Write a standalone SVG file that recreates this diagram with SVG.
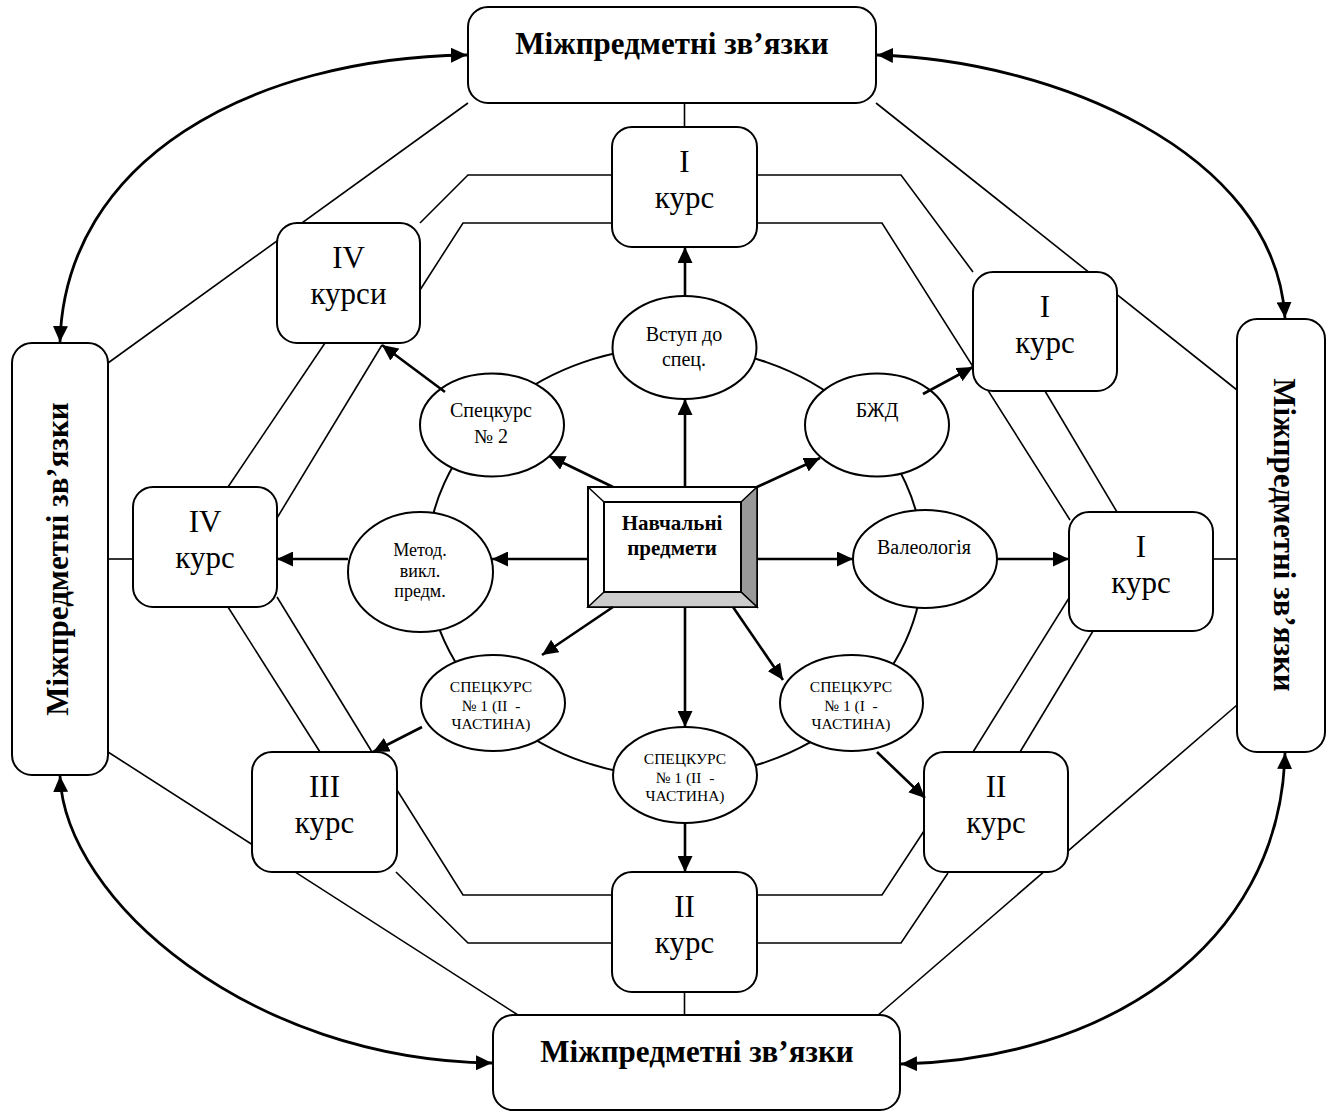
<svg xmlns="http://www.w3.org/2000/svg" width="1326" height="1111" viewBox="0 0 1326 1111">
<style>
.box{fill:#fff;stroke:#000;stroke-width:2}
.ell{fill:#fff;stroke:#000;stroke-width:2}
.ln{fill:none;stroke:#000;stroke-width:1.6}
.ar{fill:none;stroke:#000;stroke-width:2.6;marker-end:url(#ah)}
.cv{fill:none;stroke:#000;stroke-width:2.8;marker-start:url(#ah2);marker-end:url(#ah2)}
.big{font-family:"Liberation Serif","DejaVu Serif",serif;font-weight:bold;font-size:31px;text-anchor:middle}
.crs{font-family:"Liberation Serif","DejaVu Serif",serif;font-size:31px;text-anchor:middle}
.el{font-family:"Liberation Serif","DejaVu Serif",serif;font-size:20px;text-anchor:middle}
.sm{font-family:"Liberation Serif","DejaVu Serif",serif;font-size:15.5px;text-anchor:middle;white-space:pre}
.ctr{font-family:"Liberation Serif","DejaVu Serif",serif;font-weight:bold;font-size:21px;text-anchor:middle}
</style>
<defs>
<marker id="ah" markerUnits="userSpaceOnUse" markerWidth="16" markerHeight="15" refX="16" refY="7.5" orient="auto"><path d="M0,0 L16,7.5 L0,15 z" fill="#000"/></marker>
<marker id="ah2" markerUnits="userSpaceOnUse" markerWidth="16" markerHeight="15" refX="16" refY="7.5" orient="auto-start-reverse"><path d="M0,0 L16,7.5 L0,15 z" fill="#000"/></marker>
</defs>
<rect width="1326" height="1111" fill="#fff"/>

<g id="connectors">
  <!-- ring -->
  <ellipse cx="675" cy="562" rx="248" ry="215" fill="none" stroke="#000" stroke-width="2"/>
  <!-- frame lines -->
  <line class="ln" x1="684.5" y1="103" x2="684.5" y2="127"/>
  <line class="ln" x1="684.5" y1="992" x2="684.5" y2="1015"/>
  <line class="ln" x1="108" y1="559" x2="133" y2="559"/>
  <line class="ln" x1="1213" y1="559" x2="1237" y2="559"/>
  <line class="ln" x1="468" y1="103" x2="108" y2="363"/>
  <line class="ln" x1="876" y1="103" x2="1237" y2="390"/>
  <line class="ln" x1="108" y1="752" x2="518" y2="1015"/>
  <line class="ln" x1="877" y1="1016" x2="1237" y2="705"/>
  <polyline class="ln" points="612,175 468,175 420,223"/>
  <polyline class="ln" points="612,223 463,223 420,290"/>
  <polyline class="ln" points="757,175 901,175 973,272"/>
  <polyline class="ln" points="757,223 882,223 1070,520"/>
  <line class="ln" x1="1045" y1="391" x2="1117" y2="512"/>
  <line class="ln" x1="325" y1="343" x2="228" y2="487"/>
  <line class="ln" x1="277" y1="518" x2="382" y2="345"/>
  <line class="ln" x1="228" y1="607" x2="320" y2="752"/>
  <line class="ln" x1="277" y1="597" x2="372" y2="752"/>
  <polyline class="ln" points="397,790 463,895 612,895"/>
  <polyline class="ln" points="396,872 468,943 612,943"/>
  <polyline class="ln" points="757,895 882,895 924,831"/>
  <polyline class="ln" points="757,943 901,943 948,873"/>
  <line class="ln" x1="973" y1="752" x2="1069" y2="598"/>
  <line class="ln" x1="1020" y1="752" x2="1093" y2="631"/>
  <!-- curved double arrows -->
  <path class="cv" d="M60,342 C65,160 250,58 467,55"/>
  <path class="cv" d="M877,55 C1050,60 1275,150 1285,318"/>
  <path class="cv" d="M60,776 C65,900 250,1060 492,1063"/>
  <path class="cv" d="M901,1064 C1100,1060 1280,950 1285,753"/>
</g>

<g id="n-top">
  <rect class="box" x="468" y="7" width="408" height="96" rx="20"/>
  <text class="big" x="672" y="54">Міжпредметні зв’язки</text>
</g>
<g id="n-bottom">
  <rect class="box" x="493" y="1015" width="407" height="95" rx="20"/>
  <text class="big" x="697" y="1062">Міжпредметні зв’язки</text>
</g>
<g id="n-left">
  <rect class="box" x="12" y="343" width="96" height="432" rx="20"/>
  <text class="big" transform="translate(68,559) rotate(-90)">Міжпредметні зв’язки</text>
</g>
<g id="n-right">
  <rect class="box" x="1237" y="319" width="88" height="433" rx="20"/>
  <text class="big" transform="translate(1274,535) rotate(90)">Міжпредметні зв’язки</text>
</g>

<g id="c-top-I">
  <rect class="box" x="612" y="127" width="145" height="120" rx="20"/>
  <text class="crs" x="684.5" y="172">I</text><text class="crs" x="684.5" y="208">курс</text>
</g>
<g id="c-IVkursy">
  <rect class="box" x="277" y="223" width="143" height="120" rx="20"/>
  <text class="crs" x="348.5" y="268">IV</text><text class="crs" x="348.5" y="304">курси</text>
</g>
<g id="c-ru-I">
  <rect class="box" x="973" y="272" width="144" height="119" rx="20"/>
  <text class="crs" x="1045" y="317">I</text><text class="crs" x="1045" y="353">курс</text>
</g>
<g id="c-IV">
  <rect class="box" x="133" y="487" width="144" height="120" rx="20"/>
  <text class="crs" x="205" y="532">IV</text><text class="crs" x="205" y="568">курс</text>
</g>
<g id="c-r-I">
  <rect class="box" x="1069" y="512" width="144" height="119" rx="20"/>
  <text class="crs" x="1141" y="557">I</text><text class="crs" x="1141" y="593">курс</text>
</g>
<g id="c-III">
  <rect class="box" x="252" y="752" width="145" height="120" rx="20"/>
  <text class="crs" x="324.5" y="797">III</text><text class="crs" x="324.5" y="833">курс</text>
</g>
<g id="c-rl-II">
  <rect class="box" x="924" y="752" width="144" height="120" rx="20"/>
  <text class="crs" x="996" y="797">II</text><text class="crs" x="996" y="833">курс</text>
</g>
<g id="c-bottom-II">
  <rect class="box" x="612" y="872" width="145" height="120" rx="20"/>
  <text class="crs" x="684.5" y="917">II</text><text class="crs" x="684.5" y="953">курс</text>
</g>

<g id="e-vstup">
  <ellipse class="ell" cx="684.5" cy="347.5" rx="72" ry="51.5"/>
  <text class="el" x="684" y="341">Вступ до</text><text class="el" x="684" y="366">спец.</text>
</g>
<g id="e-spec2">
  <ellipse class="ell" cx="492" cy="425" rx="72" ry="51.5"/>
  <text class="el" x="491" y="417">Спецкурс</text><text class="el" x="491" y="443">№ 2</text>
</g>
<g id="e-bzhd">
  <ellipse class="ell" cx="877" cy="425" rx="72" ry="51.5"/>
  <text class="el" x="877" y="417">БЖД</text>
</g>
<g id="e-metod">
  <ellipse class="ell" cx="420.5" cy="572" rx="72.5" ry="60"/>
  <text class="el" style="font-size:18px" x="420" y="556">Метод.</text>
  <text class="el" style="font-size:18px" x="420" y="577">викл.</text>
  <text class="el" style="font-size:18px" x="420" y="597">предм.</text>
</g>
<g id="e-valeo">
  <ellipse class="ell" cx="925" cy="559" rx="72" ry="49"/>
  <text class="el" x="924" y="554">Валеологія</text>
</g>
<g id="e-spec1-left">
  <ellipse class="ell" cx="493" cy="703" rx="72" ry="48"/>
  <text class="sm" x="491" y="692">СПЕЦКУРС</text>
  <text class="sm" x="491" y="711">№ 1 (II  -</text>
  <text class="sm" x="491" y="729">ЧАСТИНА)</text>
</g>
<g id="e-spec1-right">
  <ellipse class="ell" cx="851.5" cy="703" rx="71.5" ry="48"/>
  <text class="sm" x="851" y="692">СПЕЦКУРС</text>
  <text class="sm" x="851" y="711">№ 1 (I  -</text>
  <text class="sm" x="851" y="729">ЧАСТИНА)</text>
</g>
<g id="e-spec1-bottom">
  <ellipse class="ell" cx="685" cy="775" rx="72" ry="48"/>
  <text class="sm" x="685" y="764">СПЕЦКУРС</text>
  <text class="sm" x="685" y="783">№ 1 (II  -</text>
  <text class="sm" x="685" y="801">ЧАСТИНА)</text>
</g>

<g id="center">
  <rect x="588" y="487" width="169" height="120" fill="#fff" stroke="#000" stroke-width="2"/>
  <polygon points="741,502 757,487 757,607 741,592" fill="#999" stroke="#000" stroke-width="1.5"/>
  <polygon points="604,592 741,592 757,607 588,607" fill="#ccc" stroke="#000" stroke-width="1.5"/>
  <line x1="588" y1="487" x2="604" y2="502" stroke="#000" stroke-width="1.5"/>
  <rect x="604" y="502" width="137" height="90" fill="#fff" stroke="#000" stroke-width="2"/>
  <text class="ctr" x="672" y="530">Навчальні</text>
  <text class="ctr" x="672" y="555">предмети</text>
</g>

<g id="arrows">
  <line class="ar" x1="685" y1="487" x2="685" y2="399"/>
  <line class="ar" x1="685" y1="296" x2="685" y2="247"/>
  <line class="ar" x1="613" y1="487" x2="549" y2="456"/>
  <line class="ar" x1="757" y1="487" x2="820" y2="458"/>
  <line class="ar" x1="588" y1="559" x2="492" y2="559"/>
  <line class="ar" x1="757" y1="559" x2="853" y2="559"/>
  <line class="ar" x1="613" y1="607" x2="542" y2="655"/>
  <line class="ar" x1="685" y1="607" x2="685" y2="727"/>
  <line class="ar" x1="733" y1="607" x2="783" y2="680"/>
  <line class="ar" x1="685" y1="823" x2="685" y2="872"/>
  <line class="ar" x1="348" y1="559" x2="277" y2="559"/>
  <line class="ar" x1="997" y1="559" x2="1069" y2="559"/>
  <line class="ar" x1="422" y1="727" x2="373" y2="752"/>
  <line class="ar" x1="877" y1="752" x2="925" y2="798"/>
  <line class="ar" x1="923" y1="394" x2="973" y2="367"/>
  <line class="ar" x1="445" y1="392" x2="382" y2="345"/>
</g>
</svg>
